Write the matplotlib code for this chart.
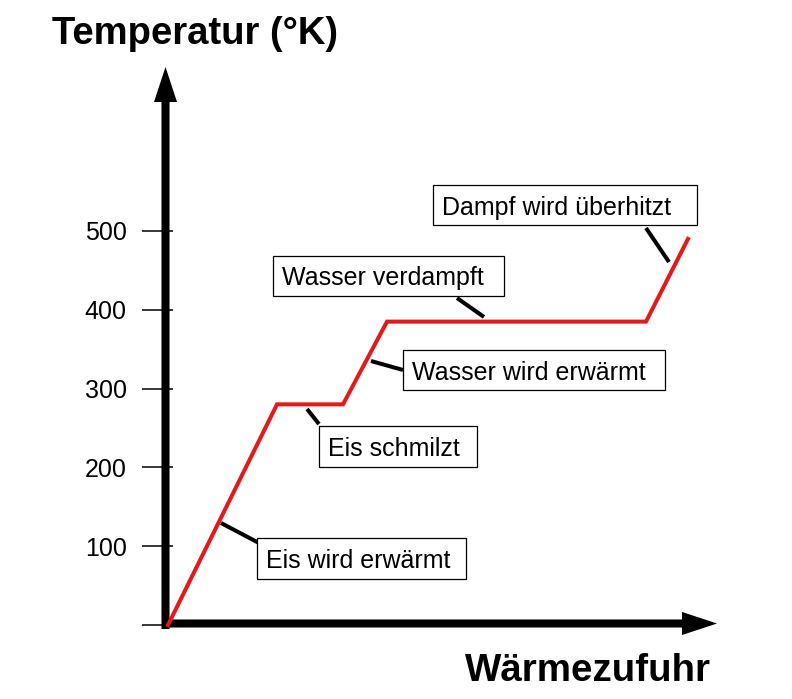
import matplotlib
matplotlib.use("Agg")
import matplotlib.pyplot as plt
from matplotlib.patches import FancyArrowPatch, Rectangle, ArrowStyle

plt.rcParams['font.family'] = ['Liberation Sans', 'DejaVu Sans']

# ---- data ----
heat = [0, 109, 175, 219, 478, 520]          # Wärmezufuhr (arbitrary units)
temperature = [0, 280, 280, 385, 385, 490]   # Temperatur (K)
ytick_values = [0, 100, 200, 300, 400, 500]
ytick_labels = ['', '100', '200', '300', '400', '500']

# annotations
labels = ['Eis wird erwärmt', 'Eis schmilzt', 'Wasser wird erwärmt',
          'Wasser verdampft', 'Dampf wird überhitzt']

W, H = 792, 699
fig = plt.figure(figsize=(W / 100, H / 100), dpi=100)
ax = fig.add_axes([0, 0, 1, 1])

# pixel-consistent scaling: 1 heat unit = 1 px; 100 K = 78.8 px
x0px, y0px, ppk = 168, 625, 0.788
ax.set_xlim(-x0px, W - x0px)
ax.set_ylim(-(H - y0px) / ppk, y0px / ppk)

def d(px, py):
    return px - x0px, (y0px - py) / ppk

for s in ax.spines.values():
    s.set_visible(False)
ax.spines['left'].set_position(('data', 5))
ax.set_xticks([])
ax.set_yticks(ytick_values)
ax.set_yticklabels(ytick_labels)
ax.tick_params(axis='y', direction='out', length=22.3, width=1.1,
               pad=11, labelsize=18, color='black')

# axes arrows
style = ArrowStyle.Simple(head_length=25.2, head_width=16.6, tail_width=5.8)
ax.add_patch(FancyArrowPatch(d(165.5, 629), d(165.5, 67), arrowstyle=style,
                             mutation_scale=1, color='black', lw=0,
                             shrinkA=0, shrinkB=0, zorder=3))
ax.add_patch(FancyArrowPatch(d(162, 623.5), d(717, 623.5), arrowstyle=style,
                             mutation_scale=1, color='black', lw=0,
                             shrinkA=0, shrinkB=0, zorder=3))

# curve
ax.plot(heat, temperature, color='#e41a1a', lw=2.9, solid_joinstyle='miter',
        zorder=4)

boxes_px = [(257, 538, 466, 579), (319, 426, 477, 467), (403, 350, 665, 390),
            (273, 256, 504, 296), (433, 185, 697, 225)]
leaders_px = [((221, 523), (259, 543)), ((307, 409), (319, 424)),
              ((371, 361), (403, 370)), ((457, 298), (484, 317)),
              ((646, 228), (669, 262))]

for lab, (bx0, by0, bx1, by1), (p1, p2) in zip(labels, boxes_px, leaders_px):
    xa, ya = d(bx0, by1)
    xb, yb = d(bx1, by0)
    ax.add_patch(Rectangle((xa, ya), xb - xa, yb - ya, facecolor='white',
                           edgecolor='black', lw=0.9, zorder=5))
    tx, ty = d(bx0 + 9, (by0 + by1) / 2)
    ax.text(tx, ty, lab, fontsize=18, ha='left', va='center_baseline',
            zorder=6)
    (ax1, ay1), (ax2, ay2) = d(*p1), d(*p2)
    ax.plot([ax1, ax2], [ay1, ay2], color='black', lw=2.9,
            solid_capstyle='butt', zorder=4)

fig.text(52 / W, 1 - 30 / H, 'Temperatur (°K)', fontsize=27.5,
         fontweight='bold', ha='left', va='center_baseline')
fig.text(465 / W, 1 - 667 / H, 'Wärmezufuhr', fontsize=27.7,
         fontweight='bold', ha='left', va='center_baseline')

fig.savefig('out.png', dpi=100)
